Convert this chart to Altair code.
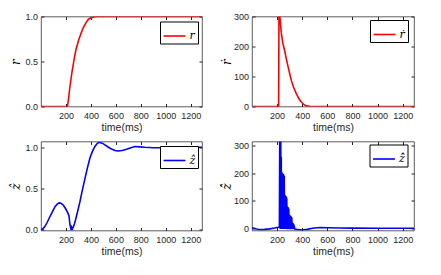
import altair as alt
import pandas as pd

# ---------------- data ----------------
x_ticks = [200, 400, 600, 800, 1000, 1200]

# r
r_t = [0, 212, 220, 230, 240, 250, 260, 270, 280, 290, 300, 320, 340, 360, 380, 400, 430, 460, 1290]
r_v = [0, 0, 0.08, 0.2, 0.3, 0.4, 0.48, 0.56, 0.63, 0.68, 0.73, 0.81, 0.88, 0.93, 0.97, 0.985, 0.998, 1.0, 1.0]

# r dot
rd_t = [0, 212, 215, 222, 233, 245, 260, 275, 290, 300, 313, 330, 353, 375, 393, 415, 433, 460, 500, 1290]
rd_v = [0, 0, 345, 300, 247, 212, 186, 155, 128, 110, 87, 65, 43, 25, 15, 6, 2, 0.5, 0, 0]

# z hat
z_t = [0, 15, 32, 50, 72, 92, 112, 130, 145, 160, 178, 195, 213, 224, 232, 240, 245, 250, 255, 261, 268,
       277, 290, 312, 330, 352, 372, 392, 412, 432, 450, 466, 490, 512, 540, 565, 592, 619, 650, 686,
       720, 752, 790, 832, 900, 1000, 1100, 1200, 1290]
z_v = [0.0, 0.01, 0.04, 0.09, 0.16, 0.22, 0.28, 0.31, 0.325, 0.32, 0.30, 0.26, 0.21, 0.17, 0.06, 0.01, 0.03, 0.0, 0.02, 0.04, 0.07,
       0.12, 0.2, 0.34, 0.47, 0.62, 0.75, 0.87, 0.95, 1.01, 1.045, 1.06, 1.05, 1.03, 1.0, 0.98, 0.96, 0.955, 0.96, 0.975,
       0.995, 1.01, 1.005, 1.0, 0.995, 0.995, 0.998, 1.0, 1.0]

# z hat dot
zd_t = [0, 30, 60, 100, 140, 180, 210, 218,
        221, 223, 225, 227, 229, 231, 233, 235, 237, 239, 241, 243, 245, 247, 249, 251, 253, 255,
        257, 259, 261, 263, 265, 267, 269, 271, 273, 275, 277, 279, 281, 283, 285, 287, 289, 291,
        293, 295, 297, 299, 301, 303, 305, 307, 309, 311, 313, 315, 317, 319, 321, 323, 325, 327,
        329, 331, 333, 335, 337, 340,
        370, 400, 440, 480, 540, 600, 700, 800, 1000, 1290]
zd_v = [3, -1, -4, -3, -1, 2, 5, 6,
        340, 0, 330, -2, 320, 0, 260, -2, 205, 0, 200, -2, 198, 0, 197, -2, 195, 0,
        190, -2, 122, 0, 120, -2, 118, 0, 115, -2, 110, 0, 80, -2, 78, 0, 76, -2,
        72, 0, 50, -2, 48, 0, 47, -2, 45, 0, 42, -2, 40, 0, 22, -2, 20, 0,
        18, -1, 15, 0, 10, -2,
        -4, -5, -3, 1, 4, 3, 2, 1.5, 1, 1]

# ---------------- styling ----------------
TXT = "#262626"
SANS = "Liberation Sans"
SERIF = "DejaVu Serif"


def panel(t, v, label, color, ydom, yticks, w, h, lx, ly):
    df = pd.DataFrame({"t": t, "v": v, "s": label})
    xs = alt.Scale(domain=[0, 1290], nice=False, zero=False)
    ys = alt.Scale(domain=ydom, nice=False, zero=False)
    main = alt.Chart(df).mark_line(clip=True, strokeWidth=1.6).encode(
        x=alt.X("t:Q", scale=xs, axis=alt.Axis(
            orient="bottom", values=x_ticks, offset=-3, tickSize=3, domain=False, grid=False,
            format="d",
            labelPadding=4.5, labelFont=SANS, labelFontSize=9, labelColor=TXT, tickColor=TXT,
            title="time(ms)", titleFont=SANS, titleFontSize=10.5, titleFontWeight="normal",
            titleColor=TXT, titlePadding=2.5)),
        y=alt.Y("v:Q", scale=ys, axis=alt.Axis(
            orient="left", values=yticks, offset=-3, tickSize=3, domain=False, grid=False,
            labelPadding=3.5, labelFont=SANS, labelFontSize=9, labelColor=TXT, tickColor=TXT,
            minExtent=20, maxExtent=20,
            title=label, titleFont=SERIF, titleFontStyle="italic", titleFontWeight="normal",
            titleFontSize=12, titleColor="black", titlePadding=2)),
        color=alt.Color("s:N", scale=alt.Scale(domain=[label], range=[color]), legend=alt.Legend(
            title=None, orient="none", legendX=lx, legendY=ly,
            strokeColor="black", fillColor="white", padding=2.5, symbolType="stroke",
            symbolSize=480, symbolStrokeWidth=1.6, labelFont=SERIF, labelFontStyle="italic",
            labelFontSize=11, labelColor="black", labelOffset=3,
            labelExpr="datum.label + '\u2003\u2002'")),
    )
    mirror = alt.Chart(df).mark_line(clip=True, opacity=0).encode(
        x=alt.X("t:Q", scale=xs, axis=alt.Axis(
            orient="top", values=x_ticks, offset=-3, tickSize=3, domain=False, labels=False,
            grid=False, tickColor=TXT, title=None, minExtent=0, maxExtent=0)),
        y=alt.Y("v:Q", scale=ys, axis=alt.Axis(
            orient="right", values=yticks, offset=-3, tickSize=3, domain=False, labels=False,
            grid=False, tickColor=TXT, title=None, minExtent=0, maxExtent=0)),
    )
    return alt.layer(main, mirror).resolve_axis(x="independent", y="independent").properties(
        width=w, height=h)


tl = panel(r_t, r_v, "r", "#ff0000", [0, 1], [0, 0.5, 1], 161, 90, 119, 5)
tr = panel(rd_t, rd_v, "\u1e59", "#ff0000", [0, 300], [0, 100, 200, 300], 162, 90, 118, 3.5)
bl = panel(z_t, z_v, "\u1e91", "#0000ff", [-0.01, 1.07], [0, 0.5, 1], 161, 89, 119, 4.5)
br = panel(zd_t, zd_v, "\u1e91\u0307", "#0000ff", [-7, 315], [0, 100, 200, 300], 162, 89, 117.5, 3)

top_row = alt.hconcat(tl, tr, spacing=16).resolve_scale(color="independent", x="independent", y="independent")
bot_row = alt.hconcat(bl, br, spacing=16).resolve_scale(color="independent", x="independent", y="independent")

chart = alt.vconcat(top_row, bot_row, spacing=7).resolve_scale(
    color="independent", x="independent", y="independent"
).properties(
    padding={"left": 0, "top": 3.5, "right": 5, "bottom": 5},
    background="white",
).configure_view(
    stroke="#333333", strokeWidth=0.8
).configure_legend(
    symbolLimit=0
)

chart.save("out.html", embed_options={"renderer": "svg", "actions": False})
